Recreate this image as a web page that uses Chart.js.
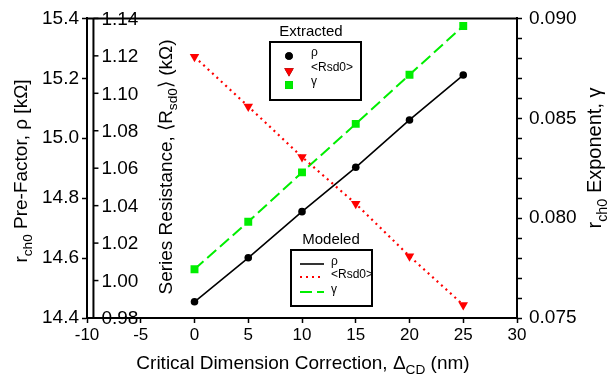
<!DOCTYPE html>
<html>
<head>
<meta charset="utf-8">
<script src="https://cdn.jsdelivr.net/npm/chart.js@4.4.1/dist/chart.umd.min.js"></script>
<style>
  html, body { margin: 0; padding: 0; background: #fff; }
  #wrap { width: 608px; height: 379px; }
</style>
</head>
<body>
<div id="wrap"><canvas id="chart"></canvas></div>
<script>
// values
const cdCorrection = [0, 5, 10, 15, 20, 25];
const rhoValues = [14.454, 14.601, 14.755, 14.903, 15.061, 15.211];
const rsd0Values = [1.1195, 1.093, 1.066, 1.041, 1.013, 0.987];
const gammaValues = [0.07744, 0.07982, 0.08229, 0.08472, 0.08718, 0.08962];
const innerTicks = [0.98, 1.00, 1.02, 1.04, 1.06, 1.08, 1.10, 1.12, 1.14];
const rightMinorTicks = [0.076, 0.077, 0.078, 0.079, 0.081, 0.082, 0.083, 0.084,
  0.086, 0.087, 0.088, 0.089];
const innerAxisAt = -9.4;

const FONT = '"Liberation Sans", Arial, sans-serif';

function pts(ys) {
  return cdCorrection.map((x, i) => ({ x: x, y: ys[i] }));
}

// draw text with subscript pieces: parts = [[text, isSub], ...]
function drawRich(ctx, parts, x, y, size, rot) {
  ctx.save();
  ctx.translate(x, y);
  ctx.rotate(rot);
  let w = 0;
  parts.forEach(p => {
    ctx.font = (p[1] ? size * 0.72 : size) + 'px ' + FONT;
    w += ctx.measureText(p[0]).width;
  });
  let cx = -w / 2;
  ctx.fillStyle = '#000';
  ctx.textAlign = 'left';
  ctx.textBaseline = 'alphabetic';
  parts.forEach(p => {
    ctx.font = (p[1] ? size * 0.72 : size) + 'px ' + FONT;
    ctx.fillText(p[0], cx, size * 0.36 + (p[1] ? size * 0.28 : 0));
    cx += ctx.measureText(p[0]).width;
  });
  ctx.restore();
}

const extrasPlugin = {
  id: 'extras',
  afterDraw(chart) {
    const ctx = chart.ctx;
    const area = chart.chartArea;
    const xs = chart.scales.x;
    const ys = chart.scales.yR;
    const yg = chart.scales.yG;

    // top frame line
    ctx.save();
    ctx.strokeStyle = '#000';
    ctx.lineWidth = 2;
    ctx.beginPath();
    ctx.moveTo(area.left - 1, area.top);
    ctx.lineTo(area.right + 1, area.top);
    ctx.stroke();

    // minor ticks on the right axis
    ctx.lineWidth = 1.5;
    rightMinorTicks.forEach(v => {
      const py = Math.round(yg.getPixelForValue(v)) + 0.5;
      ctx.beginPath();
      ctx.moveTo(area.right, py);
      ctx.lineTo(area.right + 5, py);
      ctx.stroke();
    });

    // inner (series resistance) axis
    ctx.lineWidth = 2;
    const ax = xs.getPixelForValue(innerAxisAt);
    ctx.beginPath();
    ctx.moveTo(ax, area.top);
    ctx.lineTo(ax, area.bottom);
    ctx.stroke();
    ctx.lineWidth = 1.5;
    ctx.font = '19px ' + FONT;
    ctx.fillStyle = '#000';
    ctx.textAlign = 'left';
    ctx.textBaseline = 'middle';
    innerTicks.forEach(v => {
      const py = ys.getPixelForValue(v);
      ctx.beginPath();
      ctx.moveTo(ax, py);
      ctx.lineTo(ax + 5, py);
      ctx.stroke();
      ctx.fillText(v.toFixed(2), ax + 8, py + 1);
    });
    ctx.restore();

    // axis titles
    drawRich(ctx, [['r', false], ['ch0', true], [' Pre-Factor, \u03c1 [k\u03a9]', false]], 20, 171, 19, -Math.PI / 2);
    drawRich(ctx, [['Series Resistance, \u27e8R', false], ['sd0', true], ['\u27e9 (k\u03a9)', false]], 165, 167, 19, -Math.PI / 2);
    drawRich(ctx, [['r', false], ['ch0', true], [' Exponent, \u03b3', false]], 594, 158, 20, -Math.PI / 2);
    drawRich(ctx, [['Critical Dimension Correction, \u0394', false], ['CD', true], [' (nm)', false]], 303, 362, 19, 0);

    // legends
    ctx.save();
    ctx.strokeStyle = '#000';
    ctx.lineWidth = 2;
    ctx.fillStyle = '#000';
    ctx.font = '15px ' + FONT;
    ctx.textAlign = 'center';
    ctx.textBaseline = 'middle';
    ctx.fillText('Extracted', 311, 32);
    ctx.fillText('Modeled', 331, 240);
    ctx.strokeRect(270, 42, 91, 58);
    ctx.strokeRect(291, 250, 81, 56);

    ctx.font = '12px ' + FONT;
    ctx.textAlign = 'left';
    const labels = ['\u03c1', '<Rsd0>', '\u03b3'];
    const extRows = [56, 71, 85];
    const modRows = [264, 277, 292];
    const ds = chart.data.datasets;
    labels.forEach((lab, i) => {
      const d = ds[i];
      ctx.fillStyle = '#000';
      ctx.fillText(lab, 311, extRows[i] - 3);
      Chart.helpers.drawPoint(ctx, {
        pointStyle: d.pointStyle, radius: d.pointRadius, rotation: d.rotation || 0, borderWidth: 0
      }, 289, extRows[i]);
      ctx.fillStyle = d.backgroundColor;
      ctx.fill();

      const m = ds[i + 3];
      ctx.fillStyle = '#000';
      ctx.fillText(lab, 331, modRows[i] - 2);
      ctx.save();
      ctx.strokeStyle = m.borderColor;
      ctx.lineWidth = m.borderWidth;
      ctx.setLineDash(m.borderDash || []);
      ctx.beginPath();
      ctx.moveTo(300, modRows[i]);
      ctx.lineTo(324, modRows[i]);
      ctx.stroke();
      ctx.restore();
    });
    ctx.restore();
  }
};

const ctx = document.getElementById('chart').getContext('2d');
const myChart = new Chart(ctx, {
  type: 'scatter',
  data: {
    datasets: [
      { label: 'rho', data: pts(rhoValues), yAxisID: 'y', pointStyle: 'circle', pointRadius: 3.8,
        backgroundColor: '#000', borderColor: '#000', borderWidth: 0, showLine: false, order: 0 },
      { label: 'Rsd0', data: pts(rsd0Values), yAxisID: 'yR', pointStyle: 'triangle', pointRadius: 5.5, rotation: 180,
        backgroundColor: '#ff0000', borderColor: '#ff0000', borderWidth: 0, showLine: false, order: 0 },
      { label: 'gamma', data: pts(gammaValues), yAxisID: 'yG', pointStyle: 'rect', pointRadius: 5.6,
        backgroundColor: '#00ee00', borderColor: '#00ee00', borderWidth: 0, showLine: false, order: 0 },
      // modeled lines
      { label: 'rho model', data: pts(rhoValues), yAxisID: 'y', showLine: true, pointRadius: 0,
        borderColor: '#000', borderWidth: 1.6, order: 1 },
      { label: 'Rsd0 model', data: pts(rsd0Values), yAxisID: 'yR', showLine: true, pointRadius: 0,
        borderColor: '#ff0000', borderWidth: 2.2, borderDash: [2, 4], order: 1 },
      { label: 'gamma model', data: pts(gammaValues), yAxisID: 'yG', showLine: true, pointRadius: 0,
        borderColor: '#00ee00', borderWidth: 2, borderDash: [12, 5], order: 1 }
    ]
  },
  options: {
    responsive: true,
    maintainAspectRatio: false,
    animation: false,
    layout: { padding: { left: 0, right: 0, top: 15, bottom: 0 } },
    plugins: {
      legend: { display: false },
      tooltip: { enabled: false }
    },
    scales: {
      x: {
        type: 'linear', min: -10, max: 30,
        afterFit: s => { s.height = 61; },
        grid: { drawOnChartArea: false, tickLength: 5, tickColor: '#000', tickWidth: 1.5 },
        border: { color: '#000', width: 2 },
        ticks: { stepSize: 5, color: '#000', font: { family: FONT, size: 17 }, padding: 2, maxRotation: 0 }
      },
      y: {
        type: 'linear', position: 'left', min: 14.4, max: 15.4,
        afterFit: s => { s.width = 87; },
        grid: { drawOnChartArea: false, tickLength: 5, tickColor: '#000', tickWidth: 1.5 },
        border: { color: '#000', width: 2 },
        ticks: { stepSize: 0.2, color: '#000', font: { family: FONT, size: 19 }, padding: 3,
          callback: v => v.toFixed(1) }
      },
      yR: {
        type: 'linear', position: 'left', min: 0.98, max: 1.14, display: false
      },
      yG: {
        type: 'linear', position: 'right', min: 0.075, max: 0.090,
        afterFit: s => { s.width = 91; },
        grid: { drawOnChartArea: false, tickLength: 5, tickColor: '#000', tickWidth: 1.5 },
        border: { color: '#000', width: 2 },
        ticks: { stepSize: 0.005, color: '#000', font: { family: FONT, size: 19 }, padding: 7,
          callback: v => v.toFixed(3) }
      }
    }
  },
  plugins: [extrasPlugin]
});
</script>
</body>
</html>
